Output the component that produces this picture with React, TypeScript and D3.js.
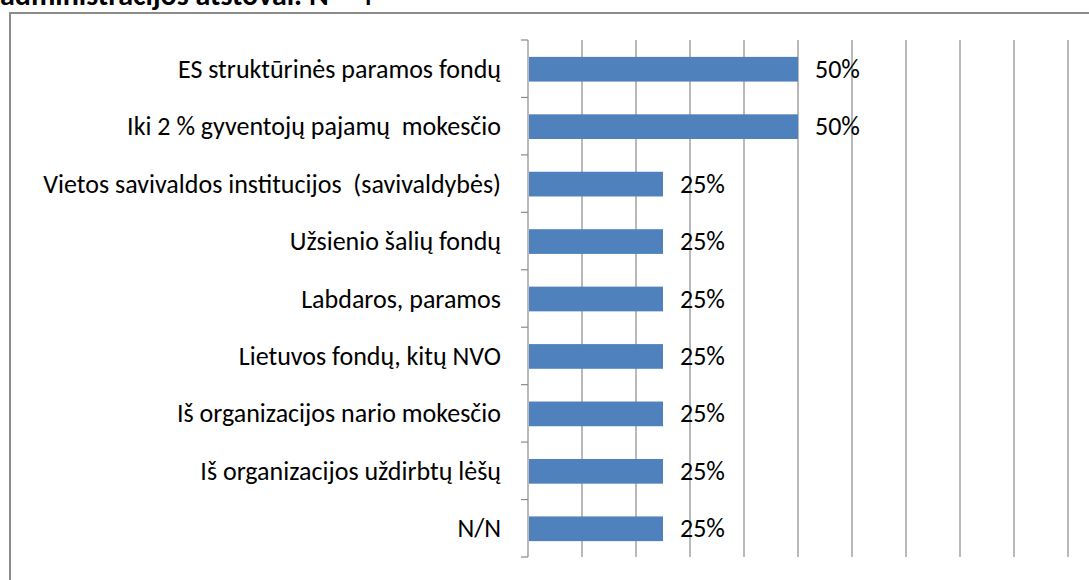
import React, { useEffect, useRef } from 'react';
import * as d3 from 'd3';

const categories: string[] = [
  'ES struktūrinės paramos fondų',
  'Iki 2 % gyventojų pajamų  mokesčio',
  'Vietos savivaldos institucijos  (savivaldybės)',
  'Užsienio šalių fondų',
  'Labdaros, paramos',
  'Lietuvos fondų, kitų NVO',
  'Iš organizacijos nario mokesčio',
  'Iš organizacijos uždirbtų lėšų',
  'N/N',
];

const values: number[] = [50, 50, 25, 25, 25, 25, 25, 25, 25];

const xTicks: number[] = [0, 10, 20, 30, 40, 50, 60, 70, 80, 90, 100];

const title = 'administracijos atstovai. N = 4';

const App: React.FC = () => {
  const ref = useRef<SVGSVGElement | null>(null);

  useEffect(() => {
    document.body.style.margin = '0';
    const svg = d3.select(ref.current);
    svg.selectAll('*').remove();

    const font = 'Carlito, Calibri, "Liberation Sans", Arial, sans-serif';
    const fs = 26;

    // frame (only left and top edges are visible in the crop)
    svg.append('path')
      .attr('d', 'M10,600 L10,13 L1100,13')
      .attr('fill', 'none')
      .attr('stroke', '#8c8c8c')
      .attr('stroke-width', 2);

    // title, cut at the top edge as in the source
    svg.append('text')
      .attr('x', 0)
      .attr('y', 5)
      .attr('font-family', font)
      .attr('font-weight', 'bold')
      .attr('font-size', 30)
      .attr('fill', '#000')
      .text(title);

    const x = d3.scaleLinear().domain([0, 100]).range([528, 1068]);
    const y = d3.scaleBand<string>().domain(categories).range([40, 557]).padding(0);
    const barH = y.bandwidth() * 0.43;

    // gridlines
    svg.append('g')
      .selectAll('line')
      .data(xTicks.slice(1))
      .join('line')
      .attr('x1', (d) => x(d))
      .attr('x2', (d) => x(d))
      .attr('y1', 40)
      .attr('y2', 557)
      .attr('stroke', '#8a8a8a')
      .attr('stroke-width', 1.2);

    // category axis with ticks between bands
    const ax = svg.append('g').attr('stroke', '#8a8a8a').attr('stroke-width', 1.2);
    ax.append('line').attr('x1', x(0)).attr('x2', x(0)).attr('y1', 40).attr('y2', 557);
    const bounds = categories.map((c) => y(c) ?? 0).concat([557]);
    ax.selectAll('line.tk')
      .data(bounds)
      .join('line')
      .attr('class', 'tk')
      .attr('x1', x(0) - 7)
      .attr('x2', x(0))
      .attr('y1', (d) => d)
      .attr('y2', (d) => d);

    // bars
    svg.append('g')
      .selectAll('rect')
      .data(values)
      .join('rect')
      .attr('x', x(0) + 1)
      .attr('y', (_, i) => (y(categories[i]) ?? 0) + y.bandwidth() / 2 - barH / 2 + 0.5)
      .attr('width', (d) => x(d) - x(0) - 1)
      .attr('height', barH)
      .attr('fill', '#4f81bd');

    // category labels
    svg.append('g')
      .selectAll('text')
      .data(categories)
      .join('text')
      .attr('x', 501)
      .attr('y', (d) => (y(d) ?? 0) + y.bandwidth() / 2)
      .attr('dy', '0.35em')
      .attr('text-anchor', 'end')
      .attr('font-family', font)
      .attr('font-size', fs)
      .attr('fill', '#000')
      .style('white-space', 'pre')
      .text((d) => d);

    // value labels
    svg.append('g')
      .selectAll('text')
      .data(values)
      .join('text')
      .attr('x', (d) => x(d) + 17)
      .attr('y', (_, i) => (y(categories[i]) ?? 0) + y.bandwidth() / 2)
      .attr('dy', '0.35em')
      .attr('font-family', font)
      .attr('font-size', fs)
      .attr('fill', '#000')
      .text((d) => `${d}%`);
  }, []);

  return <svg ref={ref} width={1089} height={580} style={{ display: 'block', background: '#fff' }} />;
};

export default App;
